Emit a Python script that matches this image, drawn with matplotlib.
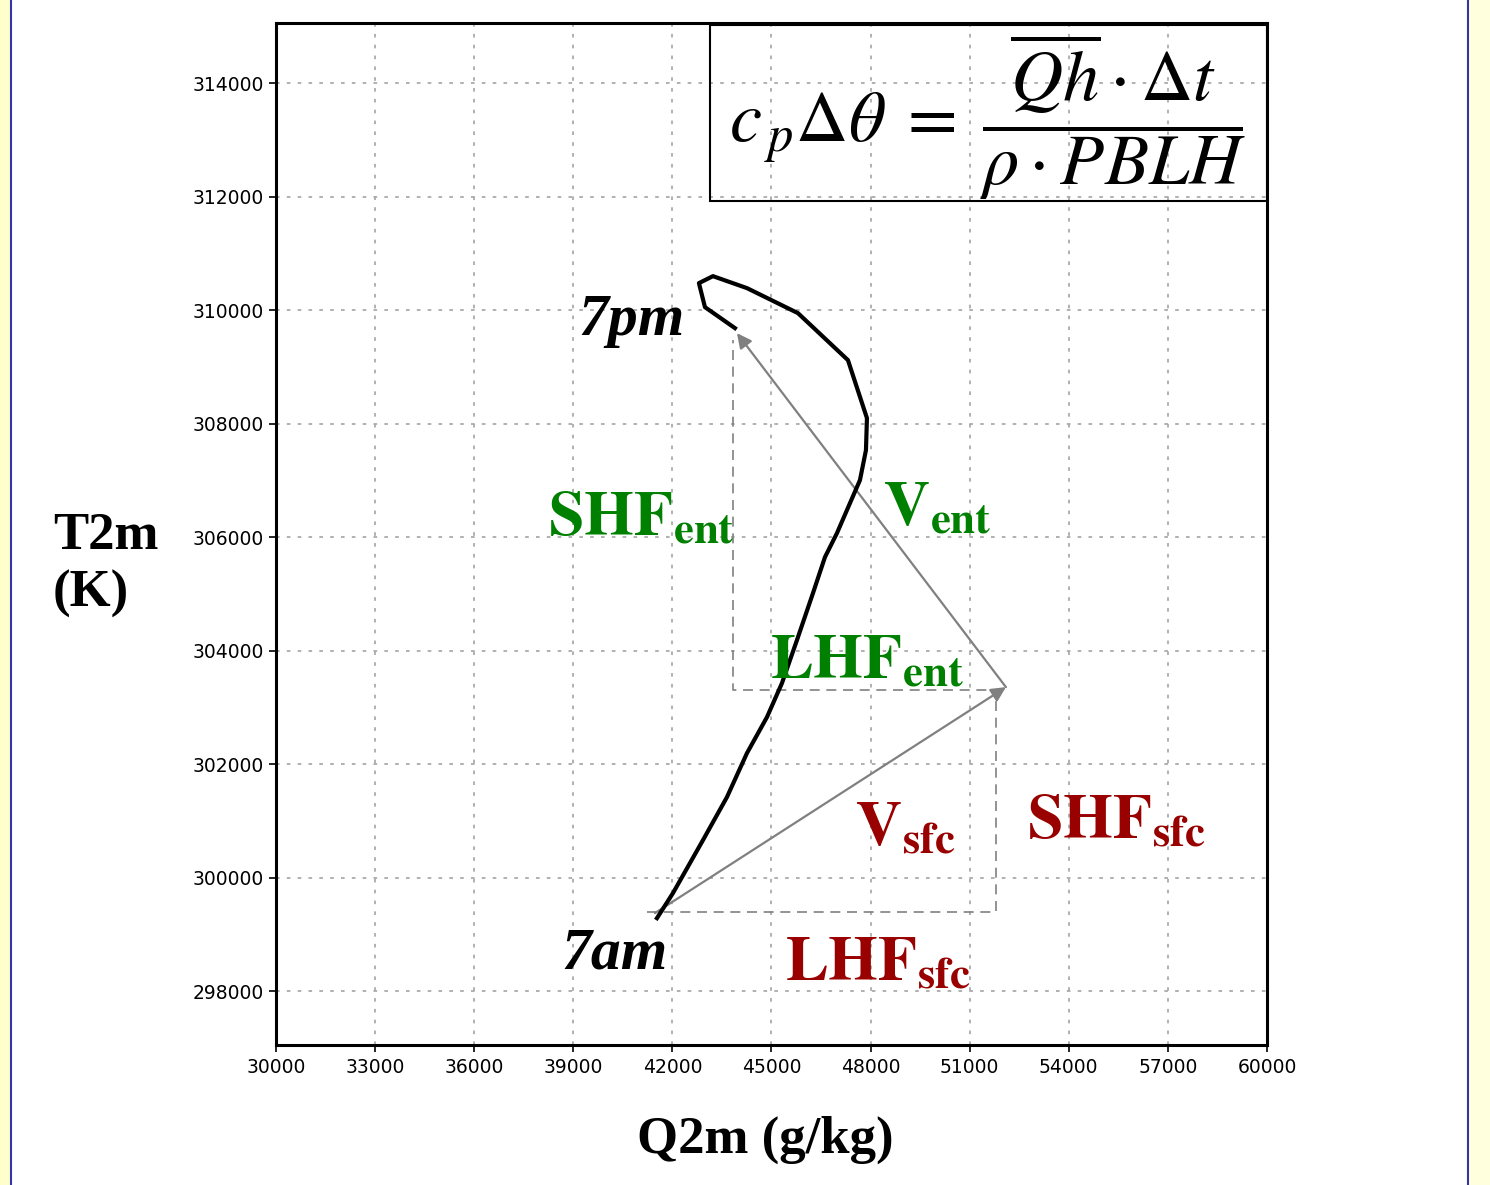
import matplotlib.pyplot as plt
from matplotlib.patches import Rectangle
from matplotlib.lines import Line2D

plt.rcParams['mathtext.fontset'] = 'stix'

# diurnal trajectory 7am -> 7pm
q2m = [41534, 42018, 42927, 43653, 44259, 44864, 45318, 45772, 46257, 46620,
       46983, 47377, 47679, 47861, 47891, 47316, 45803, 44259, 43229, 42805,
       42987, 43895]
t2m = [299286, 299727, 300661, 301419, 302194, 302828, 303427, 304185, 305013,
       305648, 306070, 306599, 307004, 307533, 308097, 309119, 309947, 310388,
       310599, 310476, 310053, 309683]

# vector decomposition
v_sfc = [(41473, 299375), (52099, 303357)]
v_ent = [(52099, 303357), (43956, 309595)]
sfc_box_q = [41231, 51797, 51797]
sfc_box_t = [299392, 299392, 303304]
ent_box_q = [52000, 43835, 43835]
ent_box_t = [303304, 303304, 309471]

xticks = list(range(30000, 60001, 3000))
yticks = list(range(298000, 314001, 2000))

green = '#008000'
red = '#990000'

fig = plt.figure(figsize=(14.9, 11.85), dpi=100)
fig.patches.append(Rectangle((0, 0), 10 / 1490, 1, transform=fig.transFigure,
                             color='#ffffcc', zorder=0))
fig.patches.append(Rectangle((1468 / 1490, 0), 22 / 1490, 1, transform=fig.transFigure,
                             color='#ffffdd', zorder=0))
fig.lines.append(Line2D([10.5 / 1490] * 2, [0, 1], transform=fig.transFigure,
                        color='#3333aa', lw=1.5))
fig.lines.append(Line2D([1467.5 / 1490] * 2, [0, 1], transform=fig.transFigure,
                        color='#3333aa', lw=1.5))

ax = fig.add_axes([0.1852, 0.1181, 0.6651, 0.8625])
ax.set_xlim(30000, 60000)
ax.set_ylim(297050, 315060)
ax.set_xticks(xticks)
ax.set_yticks(yticks)
ax.tick_params(direction='out', length=5, width=1.2, labelsize=13.5, pad=4)
ax.grid(True, color='#aaaaaa', linestyle=(0, (2, 4)), lw=1.3)
for s in ax.spines.values():
    s.set_linewidth(2.2)

ax.plot(q2m, t2m, color='black', lw=3, solid_joinstyle='round', zorder=5)

ax.plot(sfc_box_q, sfc_box_t, color='#808080', lw=1.2, ls=(0, (6, 4)), zorder=3)
ax.plot(ent_box_q, ent_box_t, color='#808080', lw=1.2, ls=(0, (6, 4)), zorder=3)
for a, b in (v_sfc, v_ent):
    ax.annotate('', xy=b, xytext=a,
                arrowprops=dict(arrowstyle='-|>', color='#808080', lw=1.6,
                                mutation_scale=22, shrinkA=0, shrinkB=0), zorder=4)

lab = dict(fontsize=46, va='baseline', ha='left', zorder=6)
ax.text(38234, 306035, r'$\mathbf{SHF}_{\mathbf{ent}}$', color=green, **lab)
ax.text(48376, 306211, r'$\mathbf{V}_{\mathbf{ent}}$', color=green, **lab)
ax.text(44955, 303515, r'$\mathbf{LHF}_{\mathbf{ent}}$', color=green, **lab)
ax.text(47528, 300573, r'$\mathbf{V}_{\mathbf{sfc}}$', color=red, **lab)
ax.text(52735, 300696, r'$\mathbf{SHF}_{\mathbf{sfc}}$', color=red, **lab)
ax.text(45409, 298194, r'$\mathbf{LHF}_{\mathbf{sfc}}$', color=red, **lab)

tfont = dict(family='Liberation Serif', weight='bold', style='italic', fontsize=43,
             ha='center', va='baseline')
ax.text(40777, 309560, '7pm', **tfont)
ax.text(40263, 298405, '7am', **tfont)

ax.add_patch(Rectangle((0.438, 0.826), 0.562, 0.172, transform=ax.transAxes,
                       fill=False, edgecolor='black', lw=1.5, zorder=6))
ax.text(0.7185, 0.908,
        r'$c_{\,p}\Delta\theta\;=\;\dfrac{\;\overline{Qh}\cdot\Delta t\;}{\rho\cdot PBLH}$',
        transform=ax.transAxes, fontsize=52, ha='center', va='center', zorder=7)

fig.text(53 / 1490, 0.523, 'T2m\n(K)', family='Liberation Serif', weight='bold',
         fontsize=38, ha='left', va='center', linespacing=1.25)
fig.text(765 / 1490, 0.038, 'Q2m (g/kg)', family='Liberation Serif', weight='bold',
         fontsize=38, ha='center', va='center')

fig.savefig('out.png', dpi=100)
